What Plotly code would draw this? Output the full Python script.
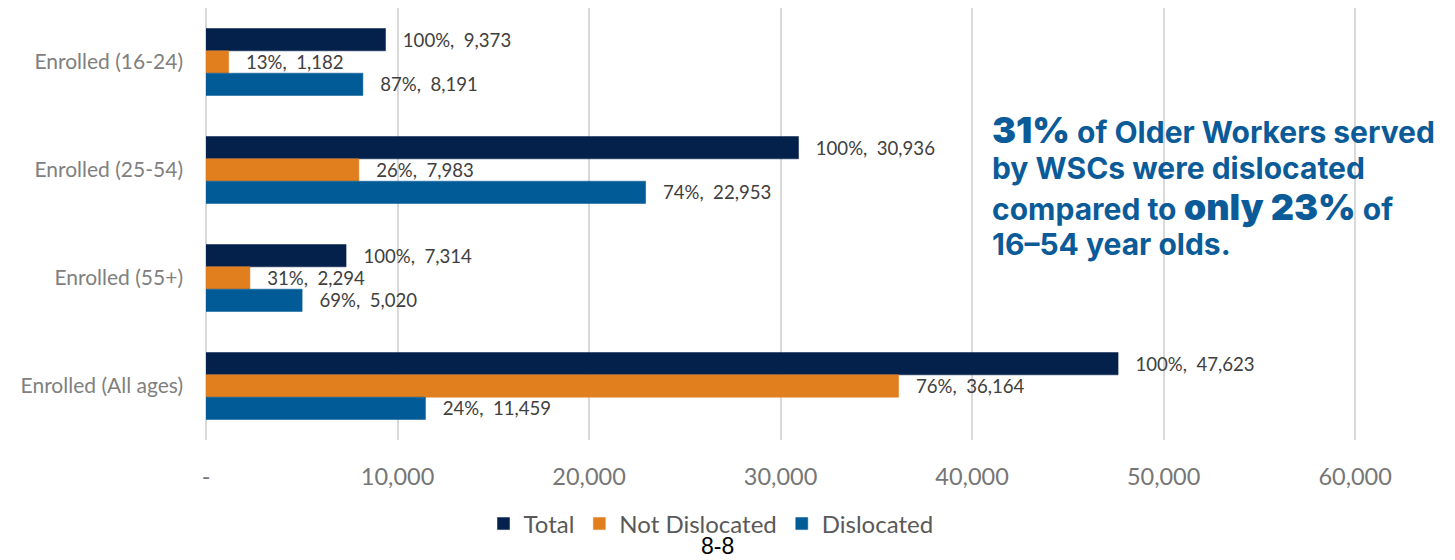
import plotly.graph_objects as go

categories = ["Enrolled (16-24)", "Enrolled (25-54)", "Enrolled (55+)", "Enrolled (All ages)"]
total_vals = [9373, 30936, 7314, 47623]
total_pct = [100, 100, 100, 100]
notdis_vals = [1182, 7983, 2294, 36164]
notdis_pct = [13, 26, 31, 76]
dis_vals = [8191, 22953, 5020, 11459]
dis_pct = [87, 74, 69, 24]
tick_vals = [0, 10000, 20000, 30000, 40000, 50000, 60000]
tick_text = ["-", "10,000", "20,000", "30,000", "40,000", "50,000", "60,000"]
callout_lines = [
    "<span style='font-size:36px;font-weight:900'>31%</span> of Older Workers served",
    "by WSCs were dislocated",
    "compared to <span style='font-size:36px;font-weight:900'>only 23%</span> of",
    "16–54 year olds.",
]

FONT = "Lato"
LABEL_COLOR = "#404040"

fig = go.Figure()
series = [
    ("Total", total_vals, total_pct, "#03214A"),
    ("Not Dislocated", notdis_vals, notdis_pct, "#E17F1E"),
    ("Dislocated", dis_vals, dis_pct, "#005B96"),
]
for name, vals, pct, color in series:
    fig.add_trace(go.Bar(
        y=categories, x=vals, customdata=pct, name=name, orientation="h",
        marker=dict(color=color, line=dict(color=color, width=0.5)),
        texttemplate="&nbsp;&nbsp;&nbsp;%{customdata}%,&nbsp;&nbsp;%{x:,}", textposition="outside",
        textfont=dict(family=FONT, size=22.5, color=LABEL_COLOR),
        cliponaxis=False,
    ))

fig.update_layout(
    width=1455, height=560,
    margin=dict(l=206, r=97, t=8, b=120, autoexpand=False),
    paper_bgcolor="white", plot_bgcolor="white",
    barmode="group", bargap=0.38, bargroupgap=0,
    font=dict(family=FONT, color="#767676"),
    legend=dict(orientation="h", x=(711 - 206) / 1152, xanchor="center", y=-(524 - 440) / 432,
                yanchor="middle", traceorder="normal",
                font=dict(family=FONT, size=24, color="#595959"), itemwidth=30),
    showlegend=True,
)
fig.update_xaxes(range=[0, 60150], tickvals=tick_vals, ticktext=tick_text,
                 showgrid=True, gridcolor="#D9D9D9", gridwidth=1.5,
                 zeroline=True, zerolinecolor="#D9D9D9", zerolinewidth=1.5,
                 tickfont=dict(family=FONT, size=23.5, color="#767676"),
                 ticklabelstandoff=20, showline=False, automargin=False)
fig.update_yaxes(categoryorder="array", categoryarray=categories, autorange="reversed",
                 tickfont=dict(family=FONT, size=21, color="#808080"),
                 ticklabelstandoff=22, showgrid=False, automargin=False)

line_centers = [130, 168, 207, 244]
for line, yc in zip(callout_lines, line_centers):
    fig.add_annotation(
        xref="paper", yref="paper", x=(990 - 206) / 1152, y=1 - (yc - 8) / 432,
        xanchor="left", yanchor="middle", align="left", showarrow=False,
        text=line,
        font=dict(family="Inter", size=30, color="#0B5B98", weight="bold"),
    )
fig.add_annotation(
    xref="paper", yref="paper", x=(717 - 206) / 1152, y=-(561 - 440) / 432,
    xanchor="center", yanchor="bottom", showarrow=False,
    text="8-8", font=dict(family="Liberation Sans", size=23, color="#000000"),
)

fig.write_html("out.html", config={"displayModeBar": False},
               post_script="document.body.style.margin='0';")
